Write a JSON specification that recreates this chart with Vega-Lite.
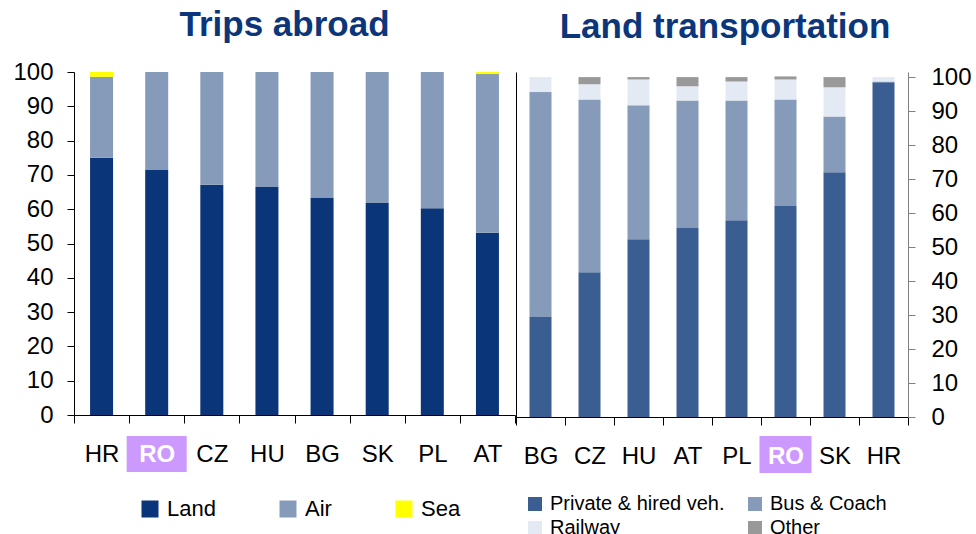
{
  "$schema": "https://vega.github.io/schema/vega-lite/v6.json",
  "padding": {"left": 12, "top": 8, "right": 5, "bottom": 0},
  "spacing": 1,
  "bounds": "flush",
  "config": {
    "view": {"stroke": null},
    "font": "Liberation Sans",
    "axis": {"labelFont": "Liberation Sans", "titleFont": "Liberation Sans", "grid": false},
    "legend": {"labelFont": "Liberation Sans"}
  },
  "datasets": {
    "trips": [
      {"country": "HR", "mode": "Land", "share": 75.0},
      {"country": "HR", "mode": "Air", "share": 23.6},
      {"country": "HR", "mode": "Sea", "share": 1.4},
      {"country": "RO", "mode": "Land", "share": 71.4},
      {"country": "RO", "mode": "Air", "share": 28.6},
      {"country": "RO", "mode": "Sea", "share": 0},
      {"country": "CZ", "mode": "Land", "share": 67.1},
      {"country": "CZ", "mode": "Air", "share": 32.9},
      {"country": "CZ", "mode": "Sea", "share": 0},
      {"country": "HU", "mode": "Land", "share": 66.5},
      {"country": "HU", "mode": "Air", "share": 33.5},
      {"country": "HU", "mode": "Sea", "share": 0},
      {"country": "BG", "mode": "Land", "share": 63.4},
      {"country": "BG", "mode": "Air", "share": 36.6},
      {"country": "BG", "mode": "Sea", "share": 0},
      {"country": "SK", "mode": "Land", "share": 61.8},
      {"country": "SK", "mode": "Air", "share": 38.2},
      {"country": "SK", "mode": "Sea", "share": 0},
      {"country": "PL", "mode": "Land", "share": 60.3},
      {"country": "PL", "mode": "Air", "share": 39.7},
      {"country": "PL", "mode": "Sea", "share": 0},
      {"country": "AT", "mode": "Land", "share": 53.1},
      {"country": "AT", "mode": "Air", "share": 46.3},
      {"country": "AT", "mode": "Sea", "share": 0.6}
    ],
    "land": [
      {"country": "BG", "mode": "Private & hired veh.", "share": 29.4},
      {"country": "BG", "mode": "Bus & Coach", "share": 66.2},
      {"country": "BG", "mode": "Railway", "share": 4.4},
      {"country": "BG", "mode": "Other", "share": 0},
      {"country": "CZ", "mode": "Private & hired veh.", "share": 42.6},
      {"country": "CZ", "mode": "Bus & Coach", "share": 50.8},
      {"country": "CZ", "mode": "Railway", "share": 4.5},
      {"country": "CZ", "mode": "Other", "share": 2.1},
      {"country": "HU", "mode": "Private & hired veh.", "share": 52.3},
      {"country": "HU", "mode": "Bus & Coach", "share": 39.4},
      {"country": "HU", "mode": "Railway", "share": 7.6},
      {"country": "HU", "mode": "Other", "share": 0.7},
      {"country": "AT", "mode": "Private & hired veh.", "share": 55.6},
      {"country": "AT", "mode": "Bus & Coach", "share": 37.5},
      {"country": "AT", "mode": "Railway", "share": 4.2},
      {"country": "AT", "mode": "Other", "share": 2.7},
      {"country": "PL", "mode": "Private & hired veh.", "share": 57.9},
      {"country": "PL", "mode": "Bus & Coach", "share": 35.2},
      {"country": "PL", "mode": "Railway", "share": 5.6},
      {"country": "PL", "mode": "Other", "share": 1.3},
      {"country": "RO", "mode": "Private & hired veh.", "share": 62.1},
      {"country": "RO", "mode": "Bus & Coach", "share": 31.3},
      {"country": "RO", "mode": "Railway", "share": 5.9},
      {"country": "RO", "mode": "Other", "share": 0.9},
      {"country": "SK", "mode": "Private & hired veh.", "share": 72.0},
      {"country": "SK", "mode": "Bus & Coach", "share": 16.4},
      {"country": "SK", "mode": "Railway", "share": 8.6},
      {"country": "SK", "mode": "Other", "share": 3.0},
      {"country": "HR", "mode": "Private & hired veh.", "share": 98.5},
      {"country": "HR", "mode": "Bus & Coach", "share": 0.2},
      {"country": "HR", "mode": "Railway", "share": 1.3},
      {"country": "HR", "mode": "Other", "share": 0}
    ],
    "highlight": [{"country": "RO"}]
  },
  "resolve": {"scale": {"color": "independent"}, "legend": {"color": "independent"}},
  "hconcat": [
    {
      "width": 441,
      "height": 343,
      "title": {"text": "Trips abroad", "fontSize": 35, "font": "Liberation Sans", "fontWeight": "bold", "color": "#0b3679", "anchor": "middle", "baseline": "alphabetic", "offset": 36, "dy": 47, "dx": -10},
      "layer": [
        {
          "data": {"name": "trips"},
          "transform": [{"calculate": "indexof(['Land', 'Air', 'Sea'], datum.mode)", "as": "stackOrder"}],
          "mark": {"type": "bar", "width": 23},
          "encoding": {
            "x": {
              "field": "country", "type": "nominal",
              "sort": ["HR", "RO", "CZ", "HU", "BG", "SK", "PL", "AT"],
              "scale": {"paddingInner": 0, "paddingOuter": 0},
              "axis": {
                "title": null, "labelAngle": 0, "labelFontSize": 24, "labelPadding": 19,
                "tickSize": 8, "tickBand": "extent", "domainColor": "#000000", "tickColor": "#000000",
                "labelColor": {"condition": {"test": "datum.value === 'RO'", "value": "#ffffff"}, "value": "#000000"},
                "labelFontWeight": {"condition": {"test": "datum.value === 'RO'", "value": "bold"}, "value": "normal"},
                "zindex": 1
              }
            },
            "y": {
              "field": "share", "type": "quantitative", "stack": "zero",
              "scale": {"domain": [0, 100], "nice": false},
              "axis": {
                "title": null, "values": [0, 10, 20, 30, 40, 50, 60, 70, 80, 90, 100], "labelOverlap": false,
                "labelFontSize": 24, "labelPadding": 14, "tickSize": 7,
                "domainColor": "#000000", "tickColor": "#000000", "labelColor": "#000000", "zindex": 1
              }
            },
            "order": {"field": "stackOrder", "type": "quantitative"},
            "color": {
              "field": "mode", "type": "nominal",
              "scale": {"domain": ["Land", "Air", "Sea"], "range": ["#0a3578", "#869bba", "#ffff00"]},
              "legend": {
                "title": null, "orient": "none", "legendX": 65, "legendY": 426, "direction": "horizontal",
                "columns": 3, "columnPadding": 61, "symbolType": "square", "symbolSize": 289,
                "labelFontSize": 22, "labelOffset": 6, "padding": 0, "labelColor": "#000000",
                "symbolStrokeWidth": 0
              }
            }
          }
        },
        {
          "data": {"name": "highlight"},
          "mark": {"type": "bar", "width": 60, "color": "#cc99ff", "clip": false},
          "encoding": {
            "x": {"field": "country", "type": "nominal", "sort": ["HR", "RO", "CZ", "HU", "BG", "SK", "PL", "AT"]},
            "y": {
              "datum": -6.1, "type": "quantitative",
              "axis": {
                "title": null, "values": [0, 10, 20, 30, 40, 50, 60, 70, 80, 90, 100], "labelOverlap": false,
                "labelFontSize": 24, "labelPadding": 14, "tickSize": 7,
                "domainColor": "#000000", "tickColor": "#000000", "labelColor": "#000000", "zindex": 1
              }
            },
            "y2": {"datum": -16.6}
          }
        }
      ]
    },
    {
      "width": 392,
      "height": 345,
      "title": {"text": "Land transportation", "fontSize": 35, "font": "Liberation Sans", "fontWeight": "bold", "color": "#0b3679", "anchor": "middle", "baseline": "alphabetic", "offset": 33, "dy": 41, "dx": 13},
      "resolve": {"axis": {"y": "independent"}},
      "layer": [
        {
          "data": {"name": "land"},
          "transform": [{"calculate": "indexof(['Private & hired veh.', 'Bus & Coach', 'Railway', 'Other'], datum.mode)", "as": "stackOrder"}],
          "mark": {"type": "bar", "width": 22},
          "encoding": {
            "x": {
              "field": "country", "type": "nominal",
              "sort": ["BG", "CZ", "HU", "AT", "PL", "RO", "SK", "HR"],
              "scale": {"paddingInner": 0, "paddingOuter": 0},
              "axis": {
                "title": null, "labelAngle": 0, "labelFontSize": 24, "labelPadding": 19,
                "tickSize": 8, "tickBand": "extent", "domainColor": "#000000", "tickColor": "#000000",
                "labelColor": {"condition": {"test": "datum.value === 'RO'", "value": "#ffffff"}, "value": "#000000"},
                "labelFontWeight": {"condition": {"test": "datum.value === 'RO'", "value": "bold"}, "value": "normal"},
                "zindex": 1
              }
            },
            "y": {
              "field": "share", "type": "quantitative", "stack": "zero",
              "scale": {"domain": [0, 101.5], "nice": false},
              "axis": {
                "orient": "right", "title": null, "values": [0, 10, 20, 30, 40, 50, 60, 70, 80, 90, 100], "labelOverlap": false,
                "labelFontSize": 24, "labelPadding": 16, "tickSize": 7,
                "domainColor": "#808080", "tickColor": "#808080", "labelColor": "#000000", "zindex": 1
              }
            },
            "order": {"field": "stackOrder", "type": "quantitative"},
            "color": {
              "field": "mode", "type": "nominal",
              "scale": {"domain": ["Private & hired veh.", "Bus & Coach", "Railway", "Other"], "range": ["#3a5e92", "#869bba", "#e4eaf3", "#999999"]},
              "legend": {
                "title": null, "orient": "none", "legendX": 9, "legendY": 422, "direction": "horizontal",
                "columns": 2, "columnPadding": 20, "rowPadding": 4, "symbolType": "square", "symbolSize": 196,
                "labelFontSize": 20, "labelOffset": 5, "labelLimit": 300, "padding": 0, "labelColor": "#000000",
                "symbolStrokeWidth": 0
              }
            }
          }
        },
        {
          "data": {"name": "highlight"},
          "mark": {"type": "bar", "width": 52, "color": "#cc99ff", "clip": false},
          "encoding": {
            "x": {"field": "country", "type": "nominal", "sort": ["BG", "CZ", "HU", "AT", "PL", "RO", "SK", "HR"]},
            "y": {
              "datum": -5.6, "type": "quantitative",
              "axis": {"orient": "left", "title": null, "labels": false, "ticks": false, "domain": true, "domainColor": "#000000", "grid": false}
            },
            "y2": {"datum": -16.5}
          }
        }
      ]
    }
  ]
}
